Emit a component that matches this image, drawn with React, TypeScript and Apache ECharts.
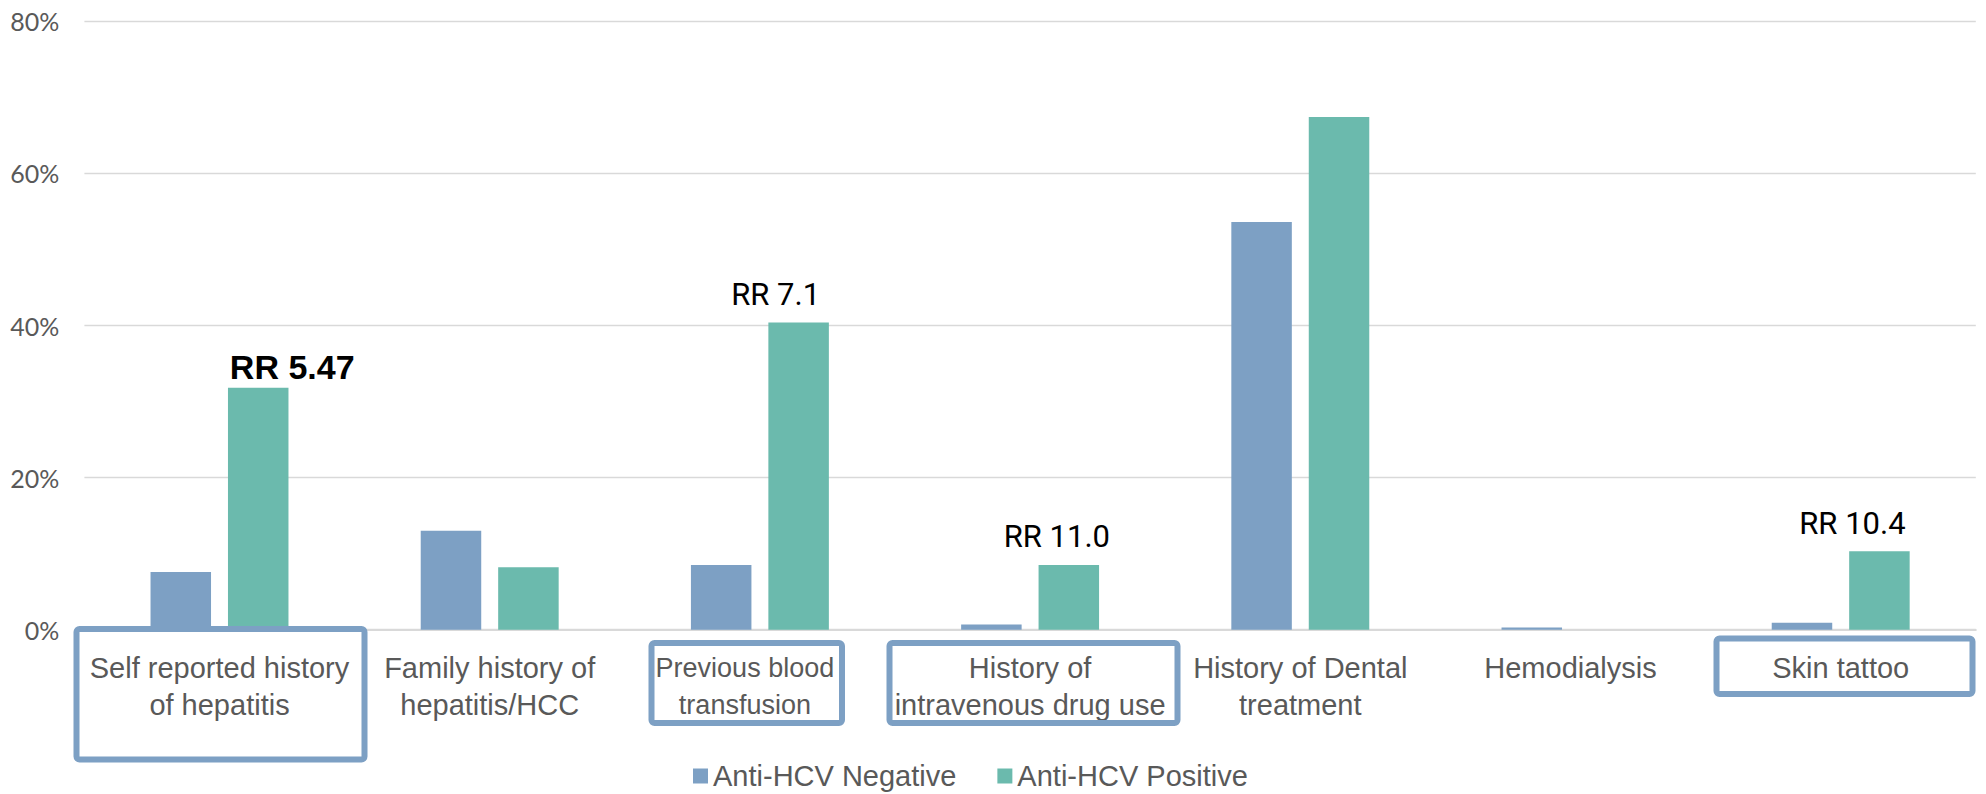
import React, { useEffect, useRef } from "react";
import * as echarts from "echarts";

// Risk factors (percent of each group)
const categories: string[] = [
  "Self reported history\nof hepatitis",
  "Family history of\nhepatitis/HCC",
  "Previous blood\ntransfusion",
  "History of\nintravenous drug use",
  "History of Dental\ntreatment",
  "Hemodialysis",
  "Skin tattoo",
];
const antiHcvNegative: number[] = [7.6, 13.0, 8.5, 0.7, 53.6, 0.3, 0.9];
const antiHcvPositive: number[] = [31.8, 8.2, 40.4, 8.5, 67.4, 0, 10.3];
const relativeRisk: string[] = ["RR 5.47", "", "RR 7.1", "RR 11.0", "", "", "RR 10.4"];
const yTicks = { min: 0, max: 80, interval: 20 };

const BLUE = "#7DA0C4";
const TEAL = "#6BBAAD";
const GREY_TEXT = "#595959";
const GRID = "#D9D9D9";
const LABEL_FONT = "'Liberation Sans', Arial, sans-serif";

// Label placement for the relative-risk annotations (x shift, gap above bar)
const rrPlacement: Record<number, { dx: number; dy: number; bold?: boolean }> = {
  0: { dx: 34, dy: 4, bold: true },
  2: { dx: -23, dy: 12 },
  3: { dx: -12, dy: 13 },
  6: { dx: -27, dy: 12 },
};

// Per-category label tweaks so the text sits inside its outline box
const categoryLabelStyle: Record<number, object> = {
  2: { fontSize: 27, padding: [0, 30, 0, 0] },
};

// Outline boxes around the highlighted categories
const highlightBoxes = [
  { x: 73.5, y: 626, w: 294, h: 136.5 },
  { x: 648.5, y: 640, w: 196.5, h: 86 },
  { x: 886.5, y: 640, w: 294, h: 86 },
  { x: 1713.5, y: 635.5, w: 262, h: 61.5 },
];

export default function App() {
  const ref = useRef<HTMLDivElement>(null);

  useEffect(() => {
    if (!ref.current) return;
    const chart = echarts.init(ref.current, null, { renderer: "svg" });

    const positiveData = antiHcvPositive.map((v, i) => {
      const txt = relativeRisk[i];
      const p = rrPlacement[i];
      if (!txt || !p) return v;
      return {
        value: v,
        label: {
          show: true,
          position: "top",
          distance: p.dy,
          offset: [p.dx, 0],
          formatter: txt,
          color: "#000000",
          fontSize: p.bold ? 34 : 31,
          fontWeight: p.bold ? "bold" : "normal",
          fontFamily: p.bold ? LABEL_FONT : "Roboto, sans-serif",
        },
      };
    });

    const categoryData = categories.map((c, i) =>
      categoryLabelStyle[i] ? { value: c, textStyle: categoryLabelStyle[i] } : c
    );

    chart.setOption({
      animation: false,
      backgroundColor: "#ffffff",
      grid: { left: 84.4, right: 10.2, top: 21.3, bottom: 164.3, containLabel: false },
      legend: {
        left: 688,
        top: 756,
        itemWidth: 15,
        itemHeight: 15,
        itemGap: 41,
        icon: "rect",
        textStyle: { color: GREY_TEXT, fontSize: 29, lineHeight: 30, fontFamily: LABEL_FONT },
        data: ["Anti-HCV Negative", "Anti-HCV Positive"],
      },
      xAxis: {
        type: "category",
        data: categoryData,
        axisTick: { show: false },
        axisLine: { lineStyle: { color: GRID, width: 2 } },
        axisLabel: {
          interval: 0,
          margin: 20,
          color: GREY_TEXT,
          fontSize: 29,
          lineHeight: 37,
          fontFamily: LABEL_FONT,
        },
      },
      yAxis: {
        type: "value",
        min: yTicks.min,
        max: yTicks.max,
        interval: yTicks.interval,
        axisLine: { show: false },
        axisTick: { show: false },
        splitLine: { lineStyle: { color: GRID, width: 1.3 } },
        axisLabel: {
          formatter: "{value}%",
          color: GREY_TEXT,
          fontSize: 25,
          margin: 25,
          fontFamily: "Lato, sans-serif",
        },
      },
      series: [
        {
          name: "Anti-HCV Negative",
          type: "bar",
          data: antiHcvNegative,
          barWidth: 60.5,
          barGap: "28%",
          itemStyle: { color: BLUE },
        },
        {
          name: "Anti-HCV Positive",
          type: "bar",
          data: positiveData,
          barWidth: 60.5,
          barGap: "28%",
          itemStyle: { color: TEAL },
        },
      ],
      graphic: highlightBoxes.map((b) => ({
        type: "rect",
        silent: true,
        z: 100,
        shape: { x: b.x + 3, y: b.y + 3, width: b.w - 6, height: b.h - 6, r: 3 },
        style: { fill: "none", stroke: BLUE, lineWidth: 6 },
      })),
    });

    return () => chart.dispose();
  }, []);

  return (
    <div
      ref={ref}
      style={{ position: "absolute", left: 0, top: 0, width: 1986, height: 794 }}
    />
  );
}
